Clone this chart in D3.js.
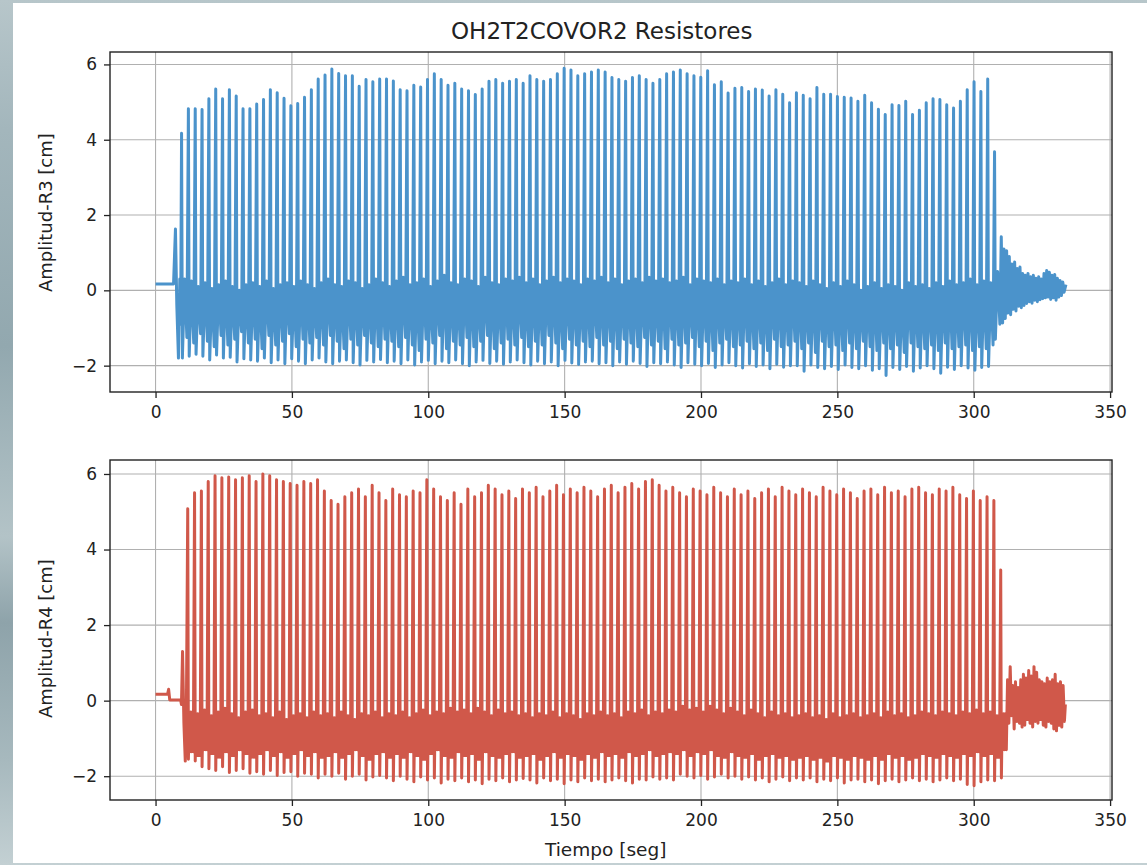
<!DOCTYPE html>
<html>
<head>
<meta charset="utf-8">
<script src="https://cdn.jsdelivr.net/npm/d3@7"></script>
<style>
  html, body { margin: 0; padding: 0; }
  body { width: 1147px; height: 865px; overflow: hidden; }
  svg { display: block; font-family: "DejaVu Sans", sans-serif; }
</style>
</head>
<body>
<svg id="chart" width="1147" height="865"></svg>
<script>
// ---- Recorded wave-gauge data (amplitude in cm, time in s) ----
// Each incident wave is stored by its crest, its main trough and the
// small secondary oscillation (chop) that follows it.
const title = "OH2T2COVOR2 Resistores";
const xLabel = "Tiempo [seg]";
const yLabels = ["Amplitud-R3 [cm]", "Amplitud-R4 [cm]"];
const xTicks = [0, 50, 100, 150, 200, 250, 300, 350];
const yTicks = [-2, 0, 2, 4, 6];

const wavePeriod = 2.505;      // s between successive crests
const r3FirstCrest = 9.54;     // s
const r4FirstCrest = 11.8;     // s

// R3: still water and the first disturbance before the wave train
const r3Lead = [[0, 0.17], [6.6, 0.17], [7.3, 1.63], [7.8, -0.4], [8.4, -1.8], [8.9, 0.3], [9.2, -0.9]];

const r3Crest = [
  4.17, 4.82, 4.82, 4.80, 5.09, 5.35, 5.09, 5.33, 5.16, 4.82,
  4.82, 4.95, 5.07, 5.33, 5.25, 5.10, 4.90, 4.96, 5.13, 5.33,
  5.61, 5.72, 5.88, 5.76, 5.70, 5.70, 5.42, 5.60, 5.54, 5.61,
  5.61, 5.56, 5.33, 5.30, 5.45, 5.40, 5.60, 5.75, 5.60, 5.45,
  5.50, 5.35, 5.30, 5.20, 5.35, 5.55, 5.60, 5.50, 5.55, 5.60,
  5.50, 5.70, 5.60, 5.55, 5.60, 5.75, 5.90, 5.85, 5.70, 5.75,
  5.80, 5.85, 5.80, 5.65, 5.60, 5.55, 5.65, 5.70, 5.60, 5.50,
  5.60, 5.75, 5.80, 5.85, 5.75, 5.70, 5.66, 5.83, 5.46, 5.54,
  5.24, 5.37, 5.39, 5.28, 5.35, 5.32, 5.16, 5.33, 5.21, 4.98,
  5.25, 5.18, 5.09, 5.39, 5.21, 5.21, 5.15, 5.13, 5.11, 5.02,
  5.18, 4.98, 4.81, 4.67, 4.93, 4.91, 5.02, 4.67, 4.78, 4.98,
  5.09, 5.07, 4.93, 4.84, 5.02, 5.33, 5.54, 5.28, 5.61, 3.68
];
const r3Trough = [
  -1.80, -1.75, -1.70, -1.75, -1.85, -1.72, -1.80, -1.78, -1.90, -1.82,
  -1.85, -1.88, -1.80, -1.92, -1.85, -1.95, -1.82, -1.88, -1.95, -1.85,
  -1.80, -1.90, -1.95, -1.88, -1.85, -1.92, -1.98, -1.86, -1.90, -1.84,
  -1.92, -1.88, -1.95, -1.85, -1.98, -1.90, -1.86, -1.95, -1.88, -1.92,
  -1.85, -1.95, -2.00, -1.90, -1.86, -1.94, -1.88, -1.96, -1.90, -1.85,
  -1.92, -1.98, -1.88, -1.95, -1.90, -2.00, -1.86, -1.93, -1.97, -1.90,
  -1.88, -1.95, -1.92, -2.00, -1.90, -1.96, -1.88, -1.94, -2.02, -1.92,
  -1.95, -1.90, -1.98, -2.05, -1.92, -1.96, -2.00, -1.94, -2.05, -1.98,
  -1.92, -2.00, -2.06, -1.95, -2.02, -1.98, -2.08, -1.96, -2.04, -2.00,
  -2.00, -2.15, -1.98, -2.05, -2.08, -2.02, -2.10, -1.98, -2.05, -2.08,
  -2.00, -2.12, -2.08, -2.26, -2.05, -2.10, -2.02, -2.15, -2.06, -2.00,
  -2.08, -2.20, -2.04, -2.10, -2.00, -2.06, -2.12, -2.05, -2.02, -1.30
];
const r3ChopHigh = [
  0.30, 0.25, 0.10, 0.20, 0.05, 0.15, 0.25, 0.10, 0.00, 0.15,
  0.20, 0.10, 0.25, 0.05, 0.15, 0.20, 0.10, 0.25, 0.15, 0.05,
  0.20, 0.30, 0.15, 0.10, 0.25, 0.20, 0.05, 0.15, 0.30, 0.20,
  0.10, 0.25, 0.35, 0.15, 0.20, 0.30, 0.10, 0.25, 0.40, 0.20,
  0.15, 0.30, 0.25, 0.10, 0.35, 0.20, 0.15, 0.30, 0.25, 0.35,
  0.20, 0.30, 0.15, 0.25, 0.35, 0.20, 0.30, 0.25, 0.15, 0.30,
  0.25, 0.35, 0.20, 0.30, 0.15, 0.25, 0.30, 0.20, 0.35, 0.25,
  0.30, 0.20, 0.25, 0.35, 0.15, 0.30, 0.25, 0.20, 0.30, 0.15,
  0.25, 0.20, 0.30, 0.15, 0.25, 0.10, 0.20, 0.30, 0.15, 0.25,
  0.20, 0.10, 0.25, 0.15, 0.05, 0.20, 0.10, 0.25, 0.15, 0.00,
  0.10, 0.20, 0.05, 0.15, 0.10, 0.00, 0.20, 0.10, 0.15, 0.05,
  0.20, 0.10, 0.25, 0.15, 0.20, 0.30, 0.15, 0.25, 0.20, 0.50
];
const r3ChopLow = [
  -1.25, -1.40, -1.15, -1.35, -1.50, -1.20, -1.45, -1.30, -1.10, -1.40,
  -1.30, -1.55, -1.20, -1.45, -1.35, -1.15, -1.50, -1.30, -1.40, -1.25,
  -1.45, -1.20, -1.35, -1.55, -1.30, -1.45, -1.20, -1.40, -1.50, -1.30,
  -1.35, -1.50, -1.25, -1.45, -1.60, -1.30, -1.40, -1.20, -1.55, -1.35,
  -1.45, -1.25, -1.50, -1.35, -1.20, -1.55, -1.40, -1.30, -1.45, -1.25,
  -1.50, -1.35, -1.45, -1.20, -1.40, -1.55, -1.30, -1.45, -1.35, -1.50,
  -1.25, -1.45, -1.35, -1.55, -1.30, -1.40, -1.50, -1.25, -1.45, -1.35,
  -1.55, -1.30, -1.45, -1.40, -1.25, -1.50, -1.35, -1.60, -1.40, -1.30,
  -1.50, -1.45, -1.35, -1.55, -1.40, -1.60, -1.30, -1.50, -1.45, -1.35,
  -1.55, -1.40, -1.65, -1.35, -1.50, -1.45, -1.60, -1.40, -1.55, -1.35,
  -1.50, -1.60, -1.40, -1.55, -1.45, -1.65, -1.40, -1.50, -1.55, -1.45,
  -1.60, -1.40, -1.55, -1.50, -1.45, -1.60, -1.50, -1.55, -1.45, -0.90
];
// R3: decaying seiche after the paddle stops
const r3TailStart = 310.1, r3TailPeriod = 0.98;
const r3TailCrest = [1.42, 1.10, 1.05, 0.90, 0.70, 0.75, 0.58, 0.62, 0.45, 0.40, 0.45, 0.36,
                     0.40, 0.32, 0.36, 0.30, 0.45, 0.53, 0.48, 0.40, 0.42, 0.32, 0.26, 0.22];
const r3TailTrough = [-0.87, -0.75, -0.60, -0.65, -0.50, -0.55, -0.42, -0.46, -0.40, -0.35, -0.30, -0.34,
                      -0.26, -0.30, -0.25, -0.22, -0.20, -0.18, -0.24, -0.20, -0.26, -0.18, -0.14, -0.05];
const r3End = [333.8, 0.15];

// R4: still water and the first disturbance before the wave train
const r4Lead = [[0, 0.17], [4.4, 0.17], [4.8, 0.3], [5.2, 0.02], [9.2, 0.02], [9.5, -0.1], [9.9, 1.3],
                [10.4, -0.6], [10.9, -1.6], [11.3, -0.4]];

const r4Crest = [
  5.08, 5.50, 5.55, 5.80, 5.95, 5.90, 5.92, 5.85, 5.90, 5.95,
  5.80, 6.00, 5.95, 5.85, 5.80, 5.75, 5.70, 5.80, 5.75, 5.85,
  5.55, 5.30, 5.20, 5.40, 5.50, 5.60, 5.40, 5.70, 5.50, 5.30,
  5.60, 5.45, 5.40, 5.55, 5.50, 5.85, 5.60, 5.40, 5.30, 5.50,
  5.20, 5.60, 5.40, 5.50, 5.70, 5.60, 5.45, 5.55, 5.35, 5.60,
  5.50, 5.65, 5.40, 5.55, 5.70, 5.45, 5.60, 5.50, 5.65, 5.55,
  5.40, 5.60, 5.70, 5.50, 5.65, 5.75, 5.60, 5.80, 5.85, 5.70,
  5.55, 5.65, 5.50, 5.40, 5.60, 5.55, 5.45, 5.65, 5.50, 5.40,
  5.60, 5.45, 5.55, 5.35, 5.50, 5.60, 5.40, 5.65, 5.55, 5.45,
  5.60, 5.50, 5.40, 5.65, 5.55, 5.45, 5.60, 5.50, 5.35, 5.55,
  5.60, 5.45, 5.65, 5.50, 5.55, 5.40, 5.60, 5.65, 5.50, 5.45,
  5.60, 5.55, 5.65, 5.45, 5.35, 5.55, 5.30, 5.40, 5.30, 3.46
];
const r4Trough = [
  -1.55, -1.60, -1.75, -1.80, -1.85, -1.75, -1.90, -1.85, -1.80, -1.92,
  -1.88, -1.95, -1.85, -1.98, -1.90, -1.88, -2.00, -1.92, -1.95, -2.05,
  -1.95, -2.00, -1.92, -2.08, -2.00, -1.95, -2.10, -2.02, -1.98, -2.05,
  -2.12, -2.00, -2.08, -2.15, -2.02, -2.10, -2.05, -2.18, -2.08, -2.12,
  -2.05, -2.15, -2.10, -2.20, -2.08, -2.12, -2.05, -2.15, -2.10, -2.06,
  -2.10, -2.18, -2.05, -2.12, -2.08, -2.20, -2.10, -2.15, -2.05, -2.12,
  -2.08, -2.15, -2.10, -2.05, -2.12, -2.18, -2.08, -2.10, -2.02, -2.08,
  -2.05, -2.10, -1.95, -2.00, -2.05, -1.98, -2.08, -2.02, -1.95, -2.05,
  -2.00, -2.08, -2.02, -2.10, -2.05, -2.15, -2.08, -2.02, -2.12, -2.05,
  -2.10, -2.05, -2.15, -2.08, -2.12, -2.05, -2.18, -2.10, -2.08, -2.15,
  -2.10, -2.20, -2.12, -2.08, -2.15, -2.10, -2.05, -2.12, -2.08, -2.15,
  -2.10, -2.05, -2.12, -2.08, -2.22, -2.25, -2.15, -2.10, -2.12, -2.05
];
const r4ChopHigh = [
  -0.30, -0.35, -0.25, -0.40, -0.30, -0.20, -0.35, -0.45, -0.30, -0.25,
  -0.40, -0.35, -0.45, -0.30, -0.50, -0.40, -0.35, -0.45, -0.30, -0.40,
  -0.35, -0.45, -0.30, -0.40, -0.50, -0.35, -0.40, -0.30, -0.45, -0.35,
  -0.40, -0.30, -0.45, -0.35, -0.25, -0.40, -0.30, -0.35, -0.20, -0.30,
  -0.25, -0.35, -0.20, -0.30, -0.40, -0.25, -0.35, -0.30, -0.40, -0.35,
  -0.45, -0.35, -0.40, -0.30, -0.45, -0.35, -0.40, -0.50, -0.35, -0.40,
  -0.30, -0.40, -0.35, -0.45, -0.30, -0.35, -0.25, -0.40, -0.30, -0.35,
  -0.25, -0.30, -0.15, -0.25, -0.20, -0.30, -0.15, -0.25, -0.35, -0.20,
  -0.30, -0.40, -0.25, -0.35, -0.45, -0.30, -0.40, -0.35, -0.45, -0.40,
  -0.35, -0.45, -0.40, -0.50, -0.35, -0.45, -0.40, -0.35, -0.45, -0.40,
  -0.35, -0.45, -0.30, -0.40, -0.35, -0.45, -0.40, -0.30, -0.35, -0.40,
  -0.30, -0.35, -0.40, -0.30, -0.35, -0.25, -0.35, -0.30, -0.40, -0.35
];
const r4ChopLow = [
  -1.35, -1.45, -1.30, -1.40, -1.50, -1.35, -1.45, -1.30, -1.40, -1.50,
  -1.40, -1.30, -1.45, -1.35, -1.50, -1.40, -1.30, -1.45, -1.35, -1.50,
  -1.45, -1.35, -1.50, -1.40, -1.30, -1.45, -1.55, -1.40, -1.35, -1.50,
  -1.40, -1.50, -1.35, -1.45, -1.55, -1.40, -1.30, -1.45, -1.50, -1.35,
  -1.45, -1.40, -1.55, -1.35, -1.45, -1.50, -1.40, -1.35, -1.50, -1.45,
  -1.40, -1.55, -1.45, -1.35, -1.50, -1.40, -1.45, -1.55, -1.40, -1.50,
  -1.35, -1.45, -1.40, -1.50, -1.35, -1.45, -1.40, -1.30, -1.45, -1.40,
  -1.35, -1.40, -1.30, -1.45, -1.35, -1.40, -1.30, -1.45, -1.50, -1.35,
  -1.45, -1.50, -1.40, -1.55, -1.45, -1.40, -1.50, -1.45, -1.55, -1.50,
  -1.45, -1.55, -1.50, -1.60, -1.45, -1.50, -1.55, -1.45, -1.50, -1.55,
  -1.45, -1.55, -1.40, -1.50, -1.45, -1.55, -1.50, -1.40, -1.45, -1.50,
  -1.40, -1.45, -1.50, -1.40, -1.45, -1.35, -1.45, -1.40, -1.50, -1.30
];
// R4: residual agitation after the wave train
const r4TailStart = 312.4, r4TailPeriod = 0.97;
const r4TailCrest = [0.55, 0.90, 0.40, 0.50, 0.35, 0.55, 0.70, 0.60, 0.80, 0.65, 0.90,
                     0.75, 0.55, 0.50, 0.45, 0.60, 0.50, 0.55, 0.70, 0.45, 0.50, 0.40];
const r4TailTrough = [-0.60, -0.40, -0.75, -0.55, -0.60, -0.70, -0.65, -0.50, -0.60, -0.70, -0.55,
                      -0.60, -0.50, -0.65, -0.70, -0.55, -0.60, -0.75, -0.80, -0.65, -0.70, -0.55];
const r4End = [333.6, -0.1];

// ---- Assemble the time series ----
// Position of each stored value inside its wave period (fraction of period)
const r3Phases = { trough: 0.12, high: 0.45, low: 0.78 };
const r4Phases = { trough: 0.10, chop: [0.22, 0.34, 0.46, 0.58, 0.70, 0.82] };

function buildR3() {
  const pts = r3Lead.slice();
  r3Crest.forEach((c, i) => {
    const t = r3FirstCrest + i * wavePeriod;
    pts.push([t, c]);
    pts.push([t + r3Phases.trough * wavePeriod, r3Trough[i]]);
    pts.push([t + r3Phases.high * wavePeriod, r3ChopHigh[i]]);
    pts.push([t + r3Phases.low * wavePeriod, r3ChopLow[i]]);
  });
  r3TailCrest.forEach((c, i) => {
    const t = r3TailStart + i * r3TailPeriod;
    pts.push([t, c]);
    pts.push([t + 0.5 * r3TailPeriod, r3TailTrough[i]]);
  });
  pts.push(r3End);
  return pts;
}

function buildR4() {
  const pts = r4Lead.slice();
  r4Crest.forEach((c, i) => {
    const t = r4FirstCrest + i * wavePeriod;
    pts.push([t, c]);
    pts.push([t + r4Phases.trough * wavePeriod, r4Trough[i]]);
    r4Phases.chop.forEach((p, k) => {
      pts.push([t + p * wavePeriod, k % 2 === 0 ? r4ChopHigh[i] : r4ChopLow[i]]);
    });
  });
  r4TailCrest.forEach((c, i) => {
    const t = r4TailStart + i * r4TailPeriod;
    pts.push([t, c]);
    pts.push([t + 0.5 * r4TailPeriod, r4TailTrough[i]]);
  });
  pts.push(r4End);
  return pts;
}

// ---- Drawing ----
const svg = d3.select("#chart");
const W = 1147, H = 865;

// backdrop around the figure
const defs = svg.append("defs");
const bg = defs.append("linearGradient").attr("id", "backdrop")
  .attr("x1", 0).attr("y1", 0).attr("x2", 0).attr("y2", 1);
[["0%", "#b7c6ca"], ["15%", "#a3b6bc"], ["40%", "#92a8af"], ["62%", "#b3c3c7"],
 ["72%", "#8ea3aa"], ["88%", "#a7b9be"], ["100%", "#c3d0d3"]]
  .forEach(([o, c]) => bg.append("stop").attr("offset", o).attr("stop-color", c));
svg.append("rect").attr("width", W).attr("height", H).attr("fill", "url(#backdrop)");
svg.append("rect").attr("x", 13).attr("y", 3).attr("width", W - 13).attr("height", 860).attr("fill", "#ffffff");

const left = 110, right = 1112;
const x = d3.scaleLinear().domain([-16.7, 350.7]).range([left, right]);

const panels = [
  { data: buildR3(), color: "#4b93cb", label: yLabels[0], top: 52, bottom: 392, yDomain: [-2.70, 6.33], labelStart: 292 },
  { data: buildR4(), color: "#d0584a", label: yLabels[1], top: 460, bottom: 800, yDomain: [-2.63, 6.37], labelStart: 718 }
];

const fmt = d => d < 0 ? "\u2212" + Math.abs(d) : String(d);

panels.forEach((p, idx) => {
  const y = d3.scaleLinear().domain(p.yDomain).range([p.bottom, p.top]);
  const g = svg.append("g");

  // grid
  g.append("g").selectAll("line").data(xTicks).join("line")
    .attr("x1", d => x(d)).attr("x2", d => x(d))
    .attr("y1", p.top).attr("y2", p.bottom)
    .attr("stroke", "#b0b0b0").attr("stroke-width", 1.1);
  g.append("g").selectAll("line").data(yTicks).join("line")
    .attr("x1", left).attr("x2", right)
    .attr("y1", d => y(d)).attr("y2", d => y(d))
    .attr("stroke", "#b0b0b0").attr("stroke-width", 1.1);

  // signal
  const clipId = "clip" + idx;
  defs.append("clipPath").attr("id", clipId).append("rect")
    .attr("x", left).attr("y", p.top).attr("width", right - left).attr("height", p.bottom - p.top);
  const line = d3.line().x(d => x(d[0])).y(d => y(d[1]));
  g.append("path").datum(p.data)
    .attr("clip-path", `url(#${clipId})`)
    .attr("d", line)
    .attr("fill", "none")
    .attr("stroke", p.color)
    .attr("stroke-width", 3.0)
    .attr("stroke-linejoin", "round");

  // axes
  const xAxis = d3.axisBottom(x).tickValues(xTicks).tickFormat(fmt).tickSize(6).tickPadding(8).tickSizeOuter(0);
  const yAxis = d3.axisLeft(y).tickValues(yTicks).tickFormat(fmt).tickSize(6).tickPadding(7).tickSizeOuter(0);
  const ax = g.append("g").attr("transform", `translate(0,${p.bottom})`).call(xAxis);
  const ay = g.append("g").attr("transform", `translate(${left},0)`).call(yAxis);
  [ax, ay].forEach(a => {
    a.select(".domain").remove();
    a.selectAll(".tick line").attr("stroke", "#222").attr("stroke-width", 1.3);
    a.selectAll(".tick text").attr("fill", "#222").attr("font-size", 17)
      .attr("font-family", "DejaVu Sans, sans-serif");
  });

  // frame
  g.append("rect").attr("x", left).attr("y", p.top)
    .attr("width", right - left).attr("height", p.bottom - p.top)
    .attr("fill", "none").attr("stroke", "#222").attr("stroke-width", 1.4);

  // y label
  g.append("text")
    .attr("transform", `translate(52,${p.labelStart}) rotate(-90)`)
    .attr("text-anchor", "start")
    .attr("font-size", 18).attr("fill", "#222")
    .text(p.label);
});

svg.append("text").attr("x", 451).attr("y", 39)
  .attr("font-size", 23).attr("fill", "#222").text(title);

svg.append("text").attr("x", 545).attr("y", 856)
  .attr("font-size", 18.5).attr("fill", "#222").text(xLabel);
</script>
</body>
</html>
